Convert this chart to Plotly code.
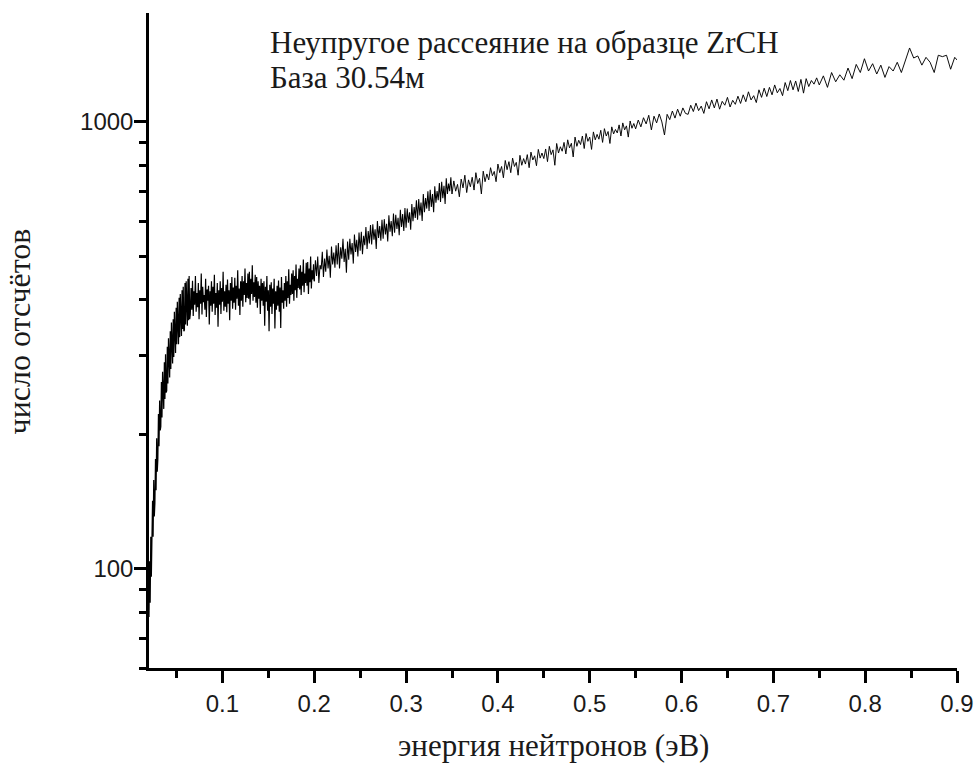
import numpy as np
import plotly.graph_objects as go

# Energy boundaries (eV) of the spectrum pieces; counts in each piece are
# sampled uniformly in energy between consecutive boundaries.
E_EDGES = [0.020, 0.065, 0.200, 0.350, 0.550, 0.750, 0.902]

# Steep rise from the low-energy cut-off
counts_rise = [
    78, 104, 84, 118, 96, 112, 142, 118, 158, 131,
    140, 176, 150, 196, 165, 176, 222, 188, 238, 204,
    208, 262, 218, 276, 230, 228, 290, 240, 302, 248,
    250, 314, 260, 328, 268, 268, 340, 280, 356, 290,
    288, 362, 298, 376, 306, 304, 384, 318, 396, 322,
    318, 404, 330, 412, 336, 332, 420, 344, 428, 340,
    342, 436, 352, 440, 356, 350, 446, 360, 452, 362,
]

# Plateau around 0.1 eV
counts_plateau = [
    372, 425, 380, 441, 368, 418, 390, 452, 376, 414,
    385, 436, 362, 420, 392, 458, 371, 428, 395, 410,
    380, 446, 366, 422, 398, 430, 352, 418, 388, 440,
    376, 428, 392, 455, 370, 414, 384, 436, 348, 420,
    390, 440, 372, 425, 396, 462, 378, 418, 386, 432,
    375, 444, 392, 420, 360, 436, 398, 450, 382, 426,
    394, 448, 380, 430, 402, 466, 388, 424, 370, 440,
    398, 452, 386, 440, 410, 470, 395, 436, 404, 458,
    402, 462, 390, 446, 412, 478, 398, 438, 406, 455,
    394, 450, 384, 440, 402, 430, 372, 446, 398, 436,
    388, 440, 350, 428, 396, 452, 378, 420, 340, 432,
    386, 438, 372, 424, 392, 446, 345, 418, 380, 430,
    388, 442, 376, 426, 346, 450, 394, 420, 382, 436,
    398, 452, 386, 440, 404, 468, 392, 432, 410, 458,
    412, 466, 398, 452, 420, 480, 404, 446, 425, 470,
    422, 478, 410, 462, 430, 492, 416, 458, 436, 484,
    430, 486, 412, 470, 438, 500, 424, 466, 444, 480,
]

# Rising part 0.2 - 0.35 eV
counts_mid = [
    440, 490, 452, 500, 436, 478, 468, 512, 450, 495,
    462, 518, 470, 502, 448, 526, 480, 510, 472, 530,
    480, 536, 470, 524, 494, 548, 486, 520, 460, 540,
    492, 548, 505, 536, 482, 560, 512, 545, 500, 566,
    515, 568, 506, 556, 530, 582, 520, 570, 535, 588,
    532, 590, 545, 575, 520, 600, 550, 585, 542, 604,
    548, 606, 560, 592, 540, 618, 568, 600, 555, 624,
    565, 620, 576, 610, 558, 636, 582, 622, 570, 642,
    580, 640, 595, 628, 574, 655, 600, 645, 610, 668,
    604, 672, 618, 660, 600, 690, 628, 676, 640, 700,
    632, 705, 645, 690, 628, 718, 660, 700, 668, 730,
    662, 735, 675, 720, 655, 748, 690, 728, 700, 752,
]

# 0.35 - 0.55 eV
counts_upper = [
    690, 738, 700, 725, 680, 745, 712, 760, 695, 742,
    716, 752, 704, 770, 728, 748, 690, 776, 735, 765,
    742, 790, 758, 775, 735, 805, 770, 795, 750, 820,
    782, 815, 770, 830, 795, 812, 760, 842, 800, 828,
    805, 845, 790, 856, 822, 840, 798, 868, 830, 852,
    828, 870, 815, 882, 845, 866, 800, 895, 852, 880,
    860, 900, 848, 912, 875, 896, 835, 925, 882, 910,
    890, 930, 872, 942, 905, 925, 868, 950, 912, 938,
    915, 958, 900, 966, 930, 952, 895, 975, 940, 962,
    945, 985, 930, 995, 960, 980, 925, 1005, 968, 992,
]

# 0.55 - 0.75 eV
counts_high = [
    965, 1010, 975, 1022, 990, 1035, 960, 1030, 995, 1042,
    1000, 935, 1040, 1012, 1058, 1020, 1068, 1030, 1075, 1045,
    1040, 1090, 1055, 1102, 1060, 1085, 1045, 1110, 1070, 1120,
    1075, 1125, 1068, 1112, 1090, 1135, 1080, 1118, 1095, 1142,
    1100, 1150, 1110, 1168, 1120, 1145, 1105, 1180, 1135, 1190,
    1140, 1195, 1150, 1210, 1162, 1188, 1145, 1225, 1175, 1238,
    1180, 1235, 1170, 1245, 1160, 1250, 1200, 1238, 1215, 1255,
]

# 0.75 - 0.90 eV
counts_tail = [
    1210, 1268, 1195, 1290, 1230, 1275, 1240, 1320, 1250, 1345,
    1290, 1385, 1300, 1350, 1280, 1340, 1258, 1330, 1300, 1360,
    1290, 1380, 1464, 1390, 1405, 1340, 1395, 1360, 1290, 1410,
    1400, 1410, 1312, 1395, 1362,
]

pieces = [counts_rise, counts_plateau, counts_mid, counts_upper, counts_high, counts_tail]

energy, counts = [], []
for k, seg in enumerate(pieces):
    last = k == len(pieces) - 1
    e = np.linspace(E_EDGES[k], E_EDGES[k + 1], len(seg), endpoint=last)
    energy.extend(e.tolist())
    counts.extend(seg)
energy = np.array(energy)
counts = np.array(counts)

X_TICKS = [0.1, 0.2, 0.3, 0.4, 0.5, 0.6, 0.7, 0.8, 0.9]
X_MINOR = [0.05, 0.15, 0.25, 0.35, 0.45, 0.55, 0.65, 0.75, 0.85]
Y_TICKS = [100, 1000]
Y_MINOR = [60, 70, 80, 90, 200, 300, 400, 500, 600, 700, 800, 900]

SANS = "Liberation Sans, Arial, sans-serif"
SERIF = "Liberation Serif, Times New Roman, serif"

# Densely sampled low-energy channels are drawn with a slightly heavier
# stroke, tapering off with energy; neighbouring parts share their
# boundary point so the curve stays continuous.
cuts = [0, int(np.searchsorted(energy, E_EDGES[2])),
        int(np.searchsorted(energy, E_EDGES[3])), len(energy) - 1]
widths = [1.2, 1.05, 0.95]

fig = go.Figure()
for a, b, w in zip(cuts[:-1], cuts[1:], widths):
    fig.add_trace(go.Scatter(
        x=energy[a:b + 1], y=counts[a:b + 1], mode="lines",
        line=dict(color="black", width=w), hoverinfo="skip",
    ))

fig.update_layout(
    width=977, height=767,
    margin=dict(l=149, r=20, t=13, b=99, autoexpand=False),
    paper_bgcolor="white", plot_bgcolor="white",
    showlegend=False,
    font=dict(family=SANS, size=24, color="#1a1a1a"),
)

fig.update_xaxes(
    range=[0.02, 0.9], automargin=False,
    tickvals=X_TICKS, ticktext=[f"{v:.1f}" for v in X_TICKS],
    ticks="outside", ticklen=12, tickwidth=2.5, tickcolor="black",
    minor=dict(tickvals=X_MINOR, ticks="outside", ticklen=7, tickwidth=2.5, tickcolor="black"),
    showline=True, linecolor="black", linewidth=2.5, mirror=False,
    showgrid=False, zeroline=False,
    tickfont=dict(family=SANS, size=24, color="#1a1a1a"),
)

fig.update_yaxes(
    type="log", automargin=False,
    range=[np.log10(60), np.log10(1753)],
    tickvals=Y_TICKS, ticktext=[str(v) for v in Y_TICKS],
    ticks="outside", ticklen=12, tickwidth=2.5, tickcolor="black",
    minor=dict(tickvals=Y_MINOR, ticks="outside", ticklen=7, tickwidth=2.5, tickcolor="black"),
    showline=True, linecolor="black", linewidth=2.5, mirror=False,
    showgrid=False, zeroline=False,
    ticklabelstandoff=-4,
    tickfont=dict(family=SANS, size=24, color="#1a1a1a"),
)

fig.add_annotation(
    text="Неупругое рассеяние на образце ZrCH",
    xref="paper", yref="paper", x=0.1473, y=0.9557,
    xanchor="left", yanchor="middle", showarrow=False,
    font=dict(family=SERIF, size=31, color="#1a1a1a"),
)
fig.add_annotation(
    text="База 30.54м",
    xref="paper", yref="paper", x=0.1473, y=0.9008,
    xanchor="left", yanchor="middle", showarrow=False,
    font=dict(family=SERIF, size=31, color="#1a1a1a"),
)
fig.add_annotation(
    text="энергия нейтронов (эВ)",
    xref="paper", yref="paper", x=0.5, y=-0.1176,
    xanchor="center", yanchor="middle", showarrow=False,
    font=dict(family=SERIF, size=31, color="#1a1a1a"),
)
fig.add_annotation(
    text="число отсчётов",
    xref="paper", yref="paper", x=-0.161, y=0.5137,
    xanchor="center", yanchor="middle", showarrow=False, textangle=-90,
    font=dict(family=SERIF, size=32, color="#1a1a1a"),
)

fig.write_html("out.html")
